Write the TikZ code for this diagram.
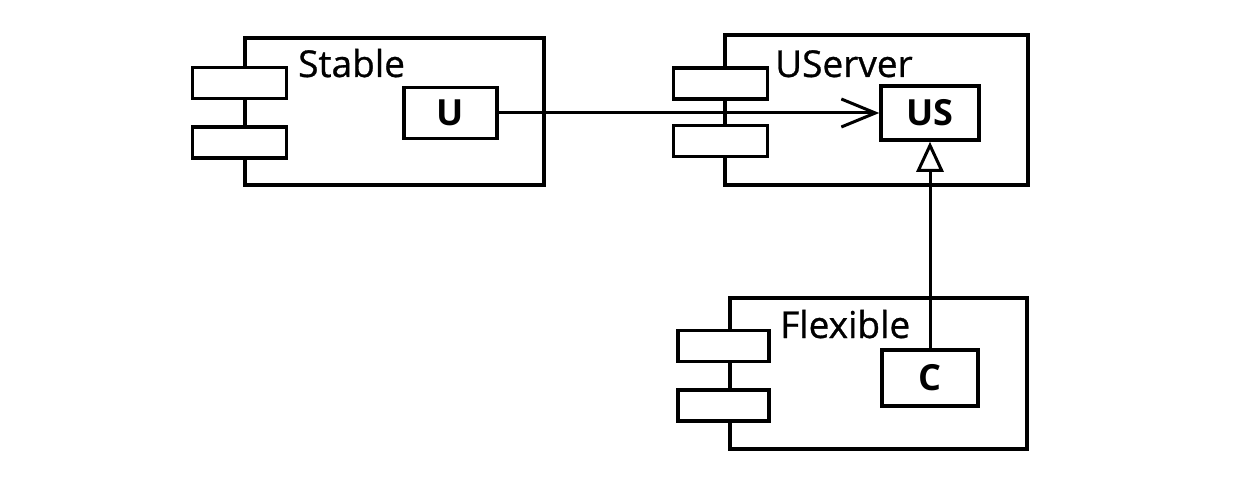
\documentclass[tikz,border=0pt]{standalone}
\usepackage{fontspec}
\setmainfont{Open Sans}
\newfontface\lblface{Open Sans}[FakeBold=0.8]
\usetikzlibrary{arrows.meta}
\begin{document}
\begin{tikzpicture}[x=1pt,y=-1pt,
  comp/.style={draw,line width=3.5pt,inner sep=0pt},
  tab/.style={draw,line width=3.5pt,fill=white,minimum width=94pt,minimum height=31pt,inner sep=0pt},
  port/.style={draw,line width=3.5pt,fill=white,inner sep=0pt,font=\fontsize{36}{42}\selectfont\bfseries},
  lbl/.style={anchor=base west,inner sep=0pt,font=\fontsize{37}{42}\lblface},
  conn/.style={line width=3pt}]
\useasboundingbox (0,0) rectangle (1260,484);
% Stable
\node[comp,minimum width=299pt,minimum height=147pt] (stable) at (394.5,111.5) {};
\node[tab] (st1) at (239.5,83) {};
\node[tab] (st2) at (239.5,142.5) {};
\node[lbl] (stl) at (298,77) {Stable};
\node[port,minimum width=93pt,minimum height=51pt] (U) at (450.5,113) {U};
% UServer
\node[comp,minimum width=303pt,minimum height=150pt] (userver) at (876.5,110) {};
\node[tab] (us1) at (720.5,83.5) {};
\node[tab] (us2) at (720.5,141) {};
\node[lbl] (usl) at (775,77) {UServer};
\node[port,minimum width=98pt,minimum height=54pt] (US) at (930,113) {US};
% Flexible
\node[comp,minimum width=297pt,minimum height=151pt] (flex) at (878.5,373.5) {};
\node[tab,minimum width=91pt] (fl1) at (723.5,346) {};
\node[tab,minimum width=91pt] (fl2) at (723.5,405.5) {};
\node[lbl] (fll) at (780,338) {Flexible};
\node[port,minimum width=96pt,minimum height=56pt] (C) at (930,378) {C};
% connectors
\draw[conn,-{Straight Barb[length=34pt,width=28pt,line width=3pt]}] (U.east) -- (US.west);
\draw[conn,-{Triangle[open,length=30pt,width=27pt,line width=3pt]}] (C.north) -- (US.south);
\end{tikzpicture}
\end{document}
